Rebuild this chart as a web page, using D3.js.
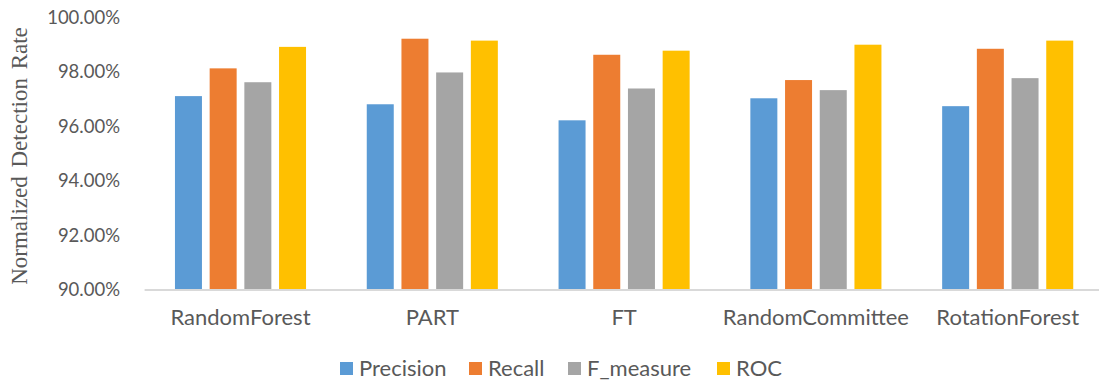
<!DOCTYPE html>
<html><head><meta charset="utf-8">
<script src="https://cdn.jsdelivr.net/npm/d3@7"></script>
<style>body{margin:0;background:#fff}svg{display:block}</style>
</head><body>
<svg id="c" width="1099" height="381"></svg>
<script>
const categories = ["RandomForest","PART","FT","RandomCommittee","RotationForest"];
const seriesNames = ["Precision","Recall","F_measure","ROC"];
const precision = [0.9711,0.9681,0.9622,0.9703,0.9674];
const recall    = [0.9813,0.9922,0.9863,0.9770,0.9885];
const fMeasure  = [0.9762,0.9798,0.9739,0.9733,0.9777];
const roc       = [0.9892,0.9915,0.9878,0.9900,0.9915];
const yTicks = [0.90,0.92,0.94,0.96,0.98,1.00];
const colors = ["#5b9bd5","#ed7d31","#a5a5a5","#ffc000"];
const seriesValues = [precision, recall, fMeasure, roc];

const svg = d3.select("#c");
const textColor = "#595959";
const font = "Lato, 'Open Sans', sans-serif";

const x0 = d3.scaleBand().domain(categories).range([144.6,1103.6]).paddingInner(0).paddingOuter(0);
const x1 = d3.scaleBand().domain(seriesNames).range([0,x0.bandwidth()]).paddingInner(0.222).paddingOuter(0.875);
const y = d3.scaleLinear().domain([0.9,1.0]).range([289.5,17.5]);

// bars
categories.forEach((c,i)=>{
  const g = svg.append("g").attr("transform",`translate(${x0(c)},0)`);
  seriesNames.forEach((s,j)=>{
    const v = seriesValues[j][i];
    g.append("rect")
      .attr("x",x1(s)).attr("width",x1.bandwidth())
      .attr("y",y(v)).attr("height",y(0.9)-y(v))
      .attr("fill",colors[j]);
  });
});

// x axis line
svg.append("line").attr("x1",144.6).attr("x2",1099).attr("y1",290).attr("y2",290)
  .attr("stroke","#d9d9d9").attr("stroke-width",2);

// y axis
const yAxis = d3.axisLeft(y).tickValues(yTicks).tickFormat(d3.format(".2%")).tickSize(0).tickPadding(0);
const ya = svg.append("g").attr("transform","translate(120,0)").call(yAxis);
ya.select(".domain").remove();
ya.selectAll("text").attr("fill",textColor).style("font-family",font).style("font-size","18.5px");

// x labels
const xAxis = d3.axisBottom(x0).tickSize(0).tickPadding(0);
const xa = svg.append("g").attr("transform","translate(0,325)").call(xAxis);
xa.select(".domain").remove();
xa.selectAll("text").attr("dy",null).attr("y",0).attr("fill",textColor).style("font-family",font).style("font-size","22px");

// y title
svg.append("text").attr("transform","translate(27,156) rotate(-90)")
  .attr("text-anchor","middle").attr("fill",textColor)
  .style("font-family","'Liberation Serif', 'Times New Roman', serif").style("font-size","23px")
  .attr("word-spacing","3")
  .text("Normalized Detection Rate");

// legend
const legendX = [340,469,568,717];
seriesNames.forEach((s,j)=>{
  svg.append("rect").attr("x",legendX[j]).attr("y",362).attr("width",13).attr("height",13).attr("fill",colors[j]);
  svg.append("text").attr("x",legendX[j]+19).attr("y",376).attr("fill",textColor)
    .style("font-family",font).style("font-size","22px").text(s);
});
</script>
</body></html>
